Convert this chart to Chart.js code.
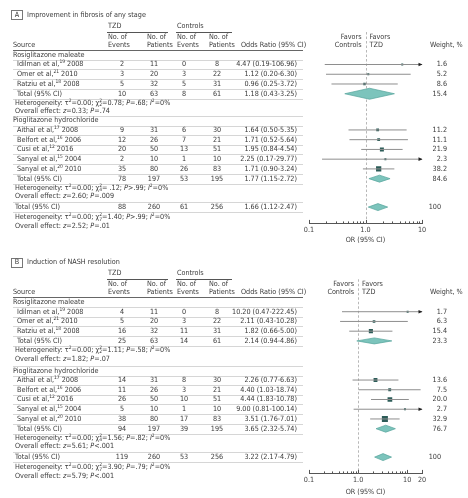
<!DOCTYPE html>
<html>
<head>
<meta charset="utf-8">
<script src="https://cdn.jsdelivr.net/npm/chart.js@4.4.0/dist/chart.umd.min.js"></script>
<style>
html,body{margin:0;padding:0;background:#fff}
#wrap{position:relative;width:468px;height:498px}
canvas{position:absolute;left:0}
</style>
</head>
<body>
<div id="wrap">
<canvas id="chartA" width="468" height="246" style="top:0"></canvas>
<canvas id="chartB" width="468" height="251" style="top:247px"></canvas>
</div>
<script>
// studies (same 8 trials in both panels)
const groupNames = ['Rosiglitazone maleate', 'Pioglitazone hydrochloride']
const studyGroup = [0, 0, 0, 1, 1, 1, 1, 1]
const studyNames = ['Idilman et al', 'Omer et al', 'Ratziu et al', 'Aithal et al', 'Belfort et al', 'Cusi et al', 'Sanyal et al', 'Sanyal et al']
const studyRefs = [19, 21, 18, 17, 16, 12, 15, 20]
const studyYears = [2008, 2010, 2008, 2008, 2006, 2016, 2004, 2010]

// panel A - fibrosis
const fibTzdEvents = [2, 3, 5, 9, 12, 20, 2, 35]
const fibTzdTotal = [11, 20, 32, 31, 26, 50, 10, 80]
const fibCtlEvents = [0, 3, 5, 6, 7, 13, 1, 26]
const fibCtlTotal = [8, 22, 31, 30, 21, 51, 10, 83]
const fibOR = [4.47, 1.12, 0.96, 1.64, 1.71, 1.95, 2.25, 1.71]
const fibLow = [0.19, 0.20, 0.25, 0.50, 0.52, 0.84, 0.17, 0.90]
const fibHigh = [106.96, 6.30, 3.72, 5.35, 5.64, 4.54, 29.77, 3.24]
const fibWeight = [1.6, 5.2, 8.6, 11.2, 11.1, 21.9, 2.3, 38.2]
// subtotals: rosiglitazone, pioglitazone, overall
const fibSumTzdEvents = [10, 78, 88]
const fibSumTzdTotal = [63, 197, 260]
const fibSumCtlEvents = [8, 53, 61]
const fibSumCtlTotal = [61, 195, 256]
const fibSumOR = [1.18, 1.77, 1.66]
const fibSumLow = [0.43, 1.15, 1.12]
const fibSumHigh = [3.25, 2.72, 2.47]
const fibSumWeight = [15.4, 84.6, 100]
const fibHet = [
  'Heterogeneity: τ^{2}=0.00; χ^{2}_{2}=0.78; *P*=.68; *I*^{2}=0%',
  'Heterogeneity: τ^{2}=0.00; χ^{2}_{4}= .12; *P*>.99; *I*^{2}=0%',
  'Heterogeneity: τ^{2}=0.00; χ^{2}_{7}=1.40; *P*>.99; *I*^{2}=0%'
]
const fibEffect = ['Overall effect: *z*=0.33; *P*=.74', 'Overall effect: *z*=2.60; *P*=.009', 'Overall effect: *z*=2.52; *P*=.01']
const fibTickValues = [0.1, 1, 10]
const fibTickLabels = ['0.1', '1.0', '10']

// panel B - NASH resolution
const nashTzdEvents = [4, 5, 16, 14, 11, 26, 5, 38]
const nashTzdTotal = [11, 20, 32, 31, 26, 50, 10, 80]
const nashCtlEvents = [0, 3, 11, 8, 3, 10, 1, 17]
const nashCtlTotal = [8, 22, 31, 30, 21, 51, 10, 83]
const nashOR = [10.20, 2.11, 1.82, 2.26, 4.40, 4.44, 9.00, 3.51]
const nashLow = [0.47, 0.43, 0.66, 0.77, 1.03, 1.83, 0.81, 1.76]
const nashHigh = [222.45, 10.28, 5.00, 6.63, 18.74, 10.78, 100.14, 7.01]
const nashWeight = [1.7, 6.3, 15.4, 13.6, 7.5, 20.0, 2.7, 32.9]
const nashSumTzdEvents = [25, 94, 119]
const nashSumTzdTotal = [63, 197, 260]
const nashSumCtlEvents = [14, 39, 53]
const nashSumCtlTotal = [61, 195, 256]
const nashSumOR = [2.14, 3.65, 3.22]
const nashSumLow = [0.94, 2.32, 2.17]
const nashSumHigh = [4.86, 5.74, 4.79]
const nashSumWeight = [23.3, 76.7, 100]
const nashHet = [
  'Heterogeneity: τ^{2}=0.00; χ^{2}_{2}=1.11; *P*=.58; *I*^{2}=0%',
  'Heterogeneity: τ^{2}=0.00; χ^{2}_{4}=1.56; *P*=.82; *I*^{2}=0%',
  'Heterogeneity: τ^{2}=0.00; χ^{2}_{7}=3.90; *P*=.79; *I*^{2}=0%'
]
const nashEffect = ['Overall effect: *z*=1.82; *P*=.07', 'Overall effect: *z*=5.61; *P*<.001', 'Overall effect: *z*=5.79; *P*<.001']
const nashTickValues = [0.1, 1, 10, 20]
const nashTickLabels = ['0.1', '1.0', '10', '20']

const FONT = '"Liberation Sans Narrow","DejaVu Sans Condensed","Roboto Condensed","Arial Narrow",sans-serif'
const FS = 7.2
const INK = '#3a3a3a'

// tiny rich text: *italic*, ^{sup}, _{sub}
function tokens(str){
  const re = /\*([^*]+)\*|\^\{([^}]*)\}|_\{([^}]*)\}|([^*^_]+)/g
  const out = []
  let m
  while ((m = re.exec(str))) {
    if (m[1] !== undefined) out.push({t: m[1], k: 'i'})
    else if (m[2] !== undefined) out.push({t: m[2], k: 'sup'})
    else if (m[3] !== undefined) out.push({t: m[3], k: 'sub'})
    else out.push({t: m[4], k: 'n'})
  }
  return out
}
function fontFor(k, size){
  const s = (k == 'sup' || k == 'sub') ? size * 0.68 : size
  return (k == 'i' ? 'italic ' : '') + s + 'px ' + FONT
}
function drawRich(ctx, str, x, y, align, size){
  size = size || FS
  const toks = tokens(str)
  const pieces = []
  let w = 0
  for (let i = 0; i < toks.length; i++) {
    const tk = toks[i]
    ctx.font = fontFor(tk.k, size)
    const tw = ctx.measureText(tk.t).width
    const nx = toks[i + 1]
    if (tk.k == 'sup' && nx && nx.k == 'sub') {
      ctx.font = fontFor('sub', size)
      const tw2 = ctx.measureText(nx.t).width
      pieces.push({tk: tk, x: w}, {tk: nx, x: w})
      w += Math.max(tw, tw2)
      i++
      continue
    }
    pieces.push({tk: tk, x: w})
    w += tw
  }
  const x0 = align == 'right' ? x - w : align == 'center' ? x - w / 2 : x
  ctx.fillStyle = INK
  ctx.textAlign = 'left'
  ctx.textBaseline = 'middle'
  pieces.forEach(p => {
    ctx.font = fontFor(p.tk.k, size)
    const dy = p.tk.k == 'sup' ? -size * 0.34 : p.tk.k == 'sub' ? size * 0.3 : 0
    ctx.fillText(p.tk.t, x0 + p.x, y + dy)
  })
}

function buildRows(p){
  const rows = []
  let y = 5.2
  groupNames.forEach((g, gi) => {
    if (gi > 0) y += 0.92 + p.groupGap
    rows.push({kind: 'group', y: y, gi: gi})
    y += 0.95
    studyGroup.forEach((sg, i) => {
      if (sg == gi) { rows.push({kind: 'study', y: y, i: i}); y += 0.99 }
    })
    rows.push({kind: 'total', y: y, ti: gi}); y += 0.93
    rows.push({kind: 'het', y: y, ti: gi}); y += 0.88
    rows.push({kind: 'effect', y: y, ti: gi})
  })
  const last = groupNames.length
  y += 1.08
  rows.push({kind: 'grand', y: y, ti: last}); y += 1.05
  rows.push({kind: 'het', y: y, ti: last, grand: true}); y += 0.88
  rows.push({kind: 'effect', y: y, ti: last, grand: true})
  return rows
}

const fmt = v => v.toFixed(2)
const colX = [122, 154, 184, 217]

function forestPlugin(p, rows){
  return {
    id: 'forest',
    beforeDatasetsDraw(chart){
      const ctx = chart.ctx, xs = chart.scales.x, ys = chart.scales.y
      const nx = Math.round(xs.getPixelForValue(1)) + 0.5
      ctx.save()
      ctx.strokeStyle = '#b8b8b8'
      ctx.lineWidth = 1
      ctx.setLineDash([2.5, 2])
      ctx.beginPath()
      ctx.moveTo(nx, ys.getPixelForValue(2.85))
      ctx.lineTo(nx, chart.chartArea.bottom)
      ctx.stroke()
      ctx.restore()
    },
    afterDatasetsDraw(chart){
      const ctx = chart.ctx, xs = chart.scales.x, ys = chart.scales.y
      ctx.save()
      // pooled diamonds
      rows.filter(r => r.kind == 'total' || r.kind == 'grand').forEach(r => {
        const y = ys.getPixelForValue(r.y), h = p.diamondH[r.ti] / 2
        const xl = xs.getPixelForValue(p.sumLow[r.ti])
        const xm = xs.getPixelForValue(p.sumOR[r.ti])
        const xr = xs.getPixelForValue(p.sumHigh[r.ti])
        ctx.beginPath()
        ctx.moveTo(xl, y); ctx.lineTo(xm, y - h); ctx.lineTo(xr, y); ctx.lineTo(xm, y + h); ctx.closePath()
        ctx.fillStyle = '#7cc4bc'
        ctx.fill()
        ctx.strokeStyle = '#55a39b'
        ctx.lineWidth = 0.7
        ctx.stroke()
      })
      // arrows where the CI runs off the axis
      rows.filter(r => r.kind == 'study' && p.high[r.i] > p.xMax).forEach(r => {
        const y = ys.getPixelForValue(r.y), x = xs.getPixelForValue(p.xMax)
        ctx.beginPath()
        ctx.moveTo(x + 0.5, y); ctx.lineTo(x - 3.5, y - 1.8); ctx.lineTo(x - 3.5, y + 1.8); ctx.closePath()
        ctx.fillStyle = '#222'
        ctx.fill()
      })
      // upward tick marks on the OR axis
      const b = chart.chartArea.bottom
      ctx.strokeStyle = '#555'
      ctx.lineWidth = 1
      xs.ticks.forEach(t => {
        const x = Math.round(xs.getPixelForValue(t.value)) + 0.5
        const len = p.tickValues.includes(t.value) ? 3.5 : 2
        ctx.beginPath(); ctx.moveTo(x, b); ctx.lineTo(x, b - len); ctx.stroke()
      })
      ctx.restore()
    },
    afterDraw(chart){
      const ctx = chart.ctx, xs = chart.scales.x, ys = chart.scales.y
      const Y = v => ys.getPixelForValue(v)
      const hline = (v, x1, x2, c) => {
        const y = Math.round(Y(v)) + 0.5
        ctx.strokeStyle = c
        ctx.lineWidth = 1
        ctx.beginPath(); ctx.moveTo(x1, y); ctx.lineTo(x2, y); ctx.stroke()
      }
      ctx.save()
      // panel letter + title
      ctx.strokeStyle = '#777'
      ctx.lineWidth = 1
      ctx.strokeRect(11.5, Math.round(Y(1.15)) - 4.5, 11, 9)
      drawRich(ctx, p.letter, 17, Y(1.15), 'center')
      drawRich(ctx, p.title, 27, Y(1.15))
      // column headers
      drawRich(ctx, 'TZD', 108, Y(2.25))
      drawRich(ctx, 'Controls', 177, Y(2.25))
      hline(2.8, 107, 168, '#555')
      hline(2.8, 176, 232, '#555')
      ;[[108, 'Events'], [147, 'Patients'], [177, 'Events'], [209, 'Patients']].forEach(c => {
        drawRich(ctx, 'No. of', c[0], Y(3.35))
        drawRich(ctx, c[1], c[0], Y(4.15))
      })
      drawRich(ctx, 'Source', 13, Y(4.15))
      drawRich(ctx, 'Odds Ratio (95% CI)', 241, Y(4.15))
      const nx = xs.getPixelForValue(1)
      drawRich(ctx, 'Favors', nx - 4, Y(3.35), 'right')
      drawRich(ctx, 'Controls', nx - 4, Y(4.15), 'right')
      drawRich(ctx, 'Favors', nx + 4, Y(3.35))
      drawRich(ctx, 'TZD', nx + 4, Y(4.15))
      drawRich(ctx, 'Weight, %', 430, Y(4.15))
      hline(rows[0].y - 0.5, 13, 303, '#666')

      rows.forEach((r, k) => {
        const y = Y(r.y)
        const prev = rows[k - 1]
        const tableRow = r.kind != 'het' && r.kind != 'effect'
        if (tableRow) {
          hline(r.y + 0.5, 13, 303, '#d6d6d6')
          if (prev && (prev.kind == 'effect')) hline(r.y - 0.5, 13, 303, '#d6d6d6')
        }
        if (r.kind == 'group') drawRich(ctx, groupNames[r.gi], 13, y)
        if (r.kind == 'study') {
          const i = r.i
          drawRich(ctx, studyNames[i] + ',^{' + studyRefs[i] + '} ' + studyYears[i], 17, y)
          ;[p.tzdEvents[i], p.tzdTotal[i], p.ctlEvents[i], p.ctlTotal[i]].forEach((v, c) => drawRich(ctx, String(v), colX[c], y, 'center'))
          drawRich(ctx, fmt(p.or[i]) + ' (' + fmt(p.low[i]) + '-' + fmt(p.high[i]) + ')', 297, y, 'right')
          drawRich(ctx, p.weight[i].toFixed(1), 447, y, 'right')
        }
        if (r.kind == 'total' || r.kind == 'grand') {
          const t = r.ti
          drawRich(ctx, 'Total (95% CI)', r.kind == 'grand' ? 15 : 17, y)
          ;[p.sumTzdEvents[t], p.sumTzdTotal[t], p.sumCtlEvents[t], p.sumCtlTotal[t]].forEach((v, c) => drawRich(ctx, String(v), colX[c], y, 'center'))
          drawRich(ctx, fmt(p.sumOR[t]) + ' (' + fmt(p.sumLow[t]) + '-' + fmt(p.sumHigh[t]) + ')', 297, y, 'right')
          const w = p.sumWeight[t]
          drawRich(ctx, w == 100 ? '100' : w.toFixed(1), w == 100 ? 441 : 447, y, 'right')
        }
        if (r.kind == 'het') drawRich(ctx, p.het[r.ti], 15, y)
        if (r.kind == 'effect') drawRich(ctx, p.effect[r.ti], 15, y)
      })
      ctx.restore()
    }
  }
}

function makeChart(p){
  const rows = buildRows(p)
  const yOf = i => rows.find(r => r.kind == 'study' && r.i == i).y
  const ciData = []
  p.or.forEach((v, i) => {
    ciData.push({x: p.low[i], y: yOf(i)}, {x: p.high[i], y: yOf(i)}, {x: 1, y: null})
  })
  const ptData = p.or.map((v, i) => ({x: v, y: yOf(i)}))
  const radii = p.weight.map(w => Math.max(2, p.squareScale * Math.sqrt(w)) / Math.SQRT2)
  const tickAll = []
  for (let d = 0.1; d < p.xMax - 1e-9; d *= 10) {
    for (let k = 1; k < 10; k++) if (d * k <= p.xMax + 1e-9) tickAll.push(k == 1 ? d : d * k)
  }
  p.tickValues.forEach(v => { if (!tickAll.includes(v)) tickAll.push(v) })

  return new Chart(document.getElementById(p.id), {
    type: 'scatter',
    data: {
      datasets: [
        {data: ciData, showLine: true, spanGaps: false, borderColor: '#8e8e8e', borderWidth: 1, pointRadius: 0},
        {data: ptData, pointStyle: 'rect', pointRadius: radii, backgroundColor: '#2c5c58', borderWidth: 0}
      ]
    },
    options: {
      responsive: false,
      animation: false,
      events: [],
      layout: {padding: {left: 309, right: 46, top: 0, bottom: p.padBottom}},
      plugins: {legend: {display: false}, tooltip: {enabled: false}},
      scales: {
        x: {
          type: 'logarithmic',
          min: 0.1,
          max: p.xMax,
          afterBuildTicks: s => { s.ticks = tickAll.map(v => ({value: v})) },
          ticks: {
            autoSkip: false, maxRotation: 0, padding: 2, color: '#444',
            font: {family: FONT, size: FS},
            callback: v => { const k = p.tickValues.indexOf(v); return k >= 0 ? p.tickLabels[k] : '' }
          },
          grid: {display: false, drawTicks: false},
          border: {display: true, color: '#555', width: 1},
          title: {display: true, text: 'OR (95% CI)', color: INK, font: {family: FONT, size: FS}, padding: {top: p.titlePad, bottom: 0}}
        },
        y: {type: 'linear', min: 0, max: p.yMax, reverse: true, display: false}
      }
    },
    plugins: [forestPlugin(p, rows)]
  })
}

makeChart({
  id: 'chartA', letter: 'A', title: 'Improvement in fibrosis of any stage',
  tzdEvents: fibTzdEvents, tzdTotal: fibTzdTotal, ctlEvents: fibCtlEvents, ctlTotal: fibCtlTotal,
  or: fibOR, low: fibLow, high: fibHigh, weight: fibWeight,
  sumTzdEvents: fibSumTzdEvents, sumTzdTotal: fibSumTzdTotal, sumCtlEvents: fibSumCtlEvents, sumCtlTotal: fibSumCtlTotal,
  sumOR: fibSumOR, sumLow: fibSumLow, sumHigh: fibSumHigh, sumWeight: fibSumWeight,
  het: fibHet, effect: fibEffect, xMax: 10, tickValues: fibTickValues, tickLabels: fibTickLabels,
  yMax: 22.3, groupGap: 0, squareScale: 0.85, diamondH: [11, 7, 7], padBottom: 1.3, titlePad: 0
})

makeChart({
  id: 'chartB', letter: 'B', title: 'Induction of NASH resolution',
  tzdEvents: nashTzdEvents, tzdTotal: nashTzdTotal, ctlEvents: nashCtlEvents, ctlTotal: nashCtlTotal,
  or: nashOR, low: nashLow, high: nashHigh, weight: nashWeight,
  sumTzdEvents: nashSumTzdEvents, sumTzdTotal: nashSumTzdTotal, sumCtlEvents: nashSumCtlEvents, sumCtlTotal: nashSumCtlTotal,
  sumOR: nashSumOR, sumLow: nashSumLow, sumHigh: nashSumHigh, sumWeight: nashSumWeight,
  het: nashHet, effect: nashEffect, xMax: 20, tickValues: nashTickValues, tickLabels: nashTickLabels,
  yMax: 22.6, groupGap: 0.3, squareScale: 1.05, diamondH: [6, 7, 7], padBottom: 1.3, titlePad: 2
})
</script>
</body>
</html>
